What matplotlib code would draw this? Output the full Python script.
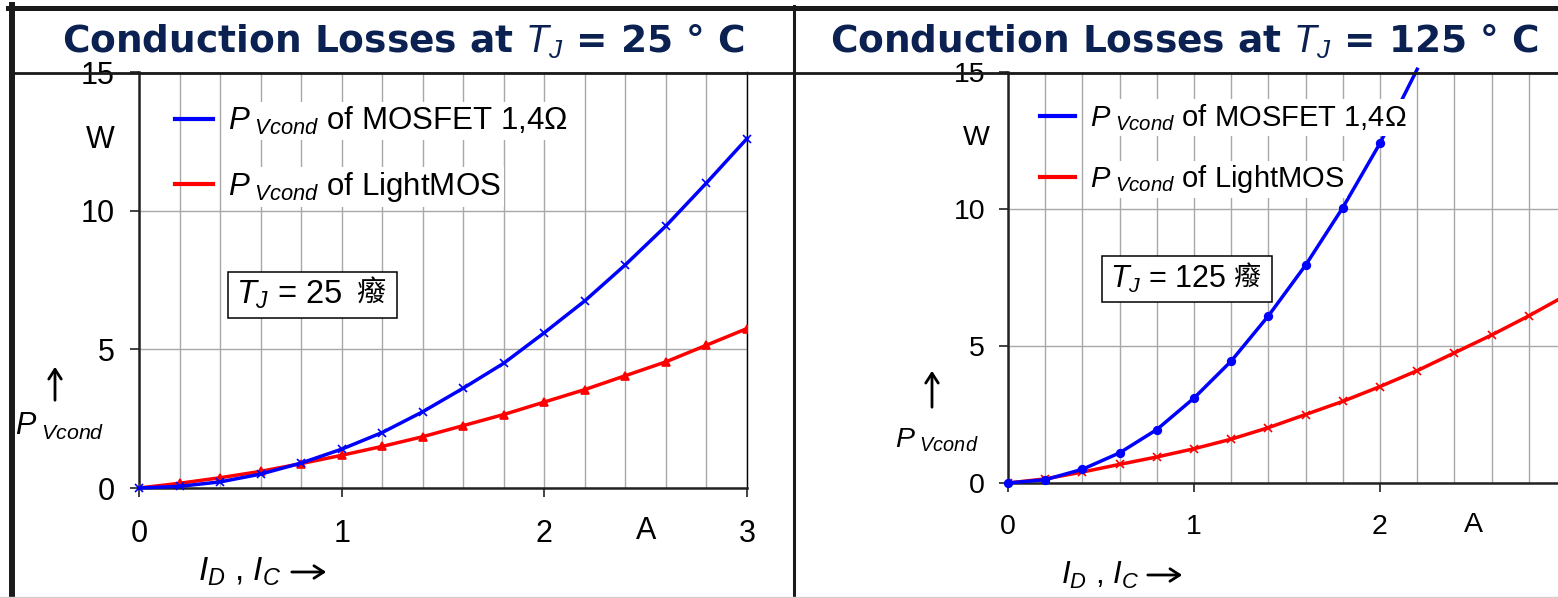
import matplotlib
matplotlib.use('Agg')
import matplotlib.pyplot as plt
from matplotlib.lines import Line2D
from matplotlib.patches import Rectangle, FancyArrowPatch

plt.rcParams['font.family'] = ['Liberation Sans', 'Noto Sans CJK TC']
plt.rcParams['mathtext.fontset'] = 'custom'
plt.rcParams['mathtext.it'] = 'Liberation Sans:italic'
plt.rcParams['mathtext.rm'] = 'Liberation Sans'

W, H = 1558, 598

# 25 degC panel
current_25 = [0, 0.2, 0.4, 0.6, 0.8, 1.0, 1.2, 1.4, 1.6, 1.8, 2.0, 2.2, 2.4, 2.6, 2.8, 3.0]
mosfet_25 = [0, 0.06, 0.22, 0.5, 0.9, 1.4, 2.0, 2.75, 3.6, 4.5, 5.6, 6.75, 8.05, 9.45, 11.0, 12.6]
lightmos_25 = [0, 0.17, 0.37, 0.6, 0.88, 1.18, 1.5, 1.85, 2.25, 2.65, 3.1, 3.55, 4.05, 4.55, 5.15, 5.75]

# 125 degC panel
current_125_mos = [0, 0.2, 0.4, 0.6, 0.8, 1.0, 1.2, 1.4, 1.6, 1.8, 2.0, 2.2]
mosfet_125 = [0, 0.12, 0.5, 1.1, 1.95, 3.1, 4.45, 6.1, 7.95, 10.05, 12.4, 15.1]
current_125 = [0, 0.2, 0.4, 0.6, 0.8, 1.0, 1.2, 1.4, 1.6, 1.8, 2.0, 2.2, 2.4, 2.6, 2.8, 3.0]
lightmos_125 = [0, 0.15, 0.4, 0.68, 0.95, 1.25, 1.6, 2.02, 2.5, 2.98, 3.52, 4.1, 4.75, 5.4, 6.1, 6.85]

y_ticks = [0, 5, 10, 15]
grid_x = [0.2, 0.4, 0.6, 0.8, 1.2, 1.4, 1.6, 1.8, 2.2, 2.4, 2.6, 2.8]

labels = ['$P_{\\ Vcond}$ of MOSFET 1,4\u03a9', '$P_{\\ Vcond}$ of LightMOS']
navy = '#0b2152'


def fx(x):
    return x / W


def fy(y):
    return 1 - y / H


fig = plt.figure(figsize=(W / 100, H / 100), dpi=100)


def arrow(p0, p1):
    fig.add_artist(FancyArrowPatch((fx(p0[0]), fy(p0[1])), (fx(p1[0]), fy(p1[1])),
                                   transform=fig.transFigure,
                                   arrowstyle='->,head_length=7,head_width=4.5',
                                   lw=2, color='black'))


def panel(rect, temp, xt, fs, mos_x, mos_y, mos_m, mos_every, lm_x, lm_y, lm_m,
          ypad, leg_xy, box, arrow_x, arrow_y, plab_xy, xlab_xy, xarrow, title_x, w_pos):
    ax = fig.add_axes(rect)
    ax.set_xlim(0, 3)
    ax.set_ylim(0, 15)
    ax.set_xticks(xt)
    ax.set_yticks(y_ticks)
    ax.set_xticks(grid_x, minor=True)
    ax.tick_params(which='major', direction='out', length=6.5, width=1.3,
                   labelsize=fs, color='#333333')
    ax.tick_params(axis='x', which='major', pad=16)
    ax.tick_params(axis='y', which='major', pad=ypad)
    ax.tick_params(which='minor', length=0)
    ax.grid(True, which='both', axis='x', color='#a8a8a8', lw=1)
    ax.grid(True, which='major', axis='y', color='#a8a8a8', lw=1)
    ax.set_axisbelow(True)
    for s in ['left', 'bottom']:
        ax.spines[s].set_linewidth(1.8)
        ax.spines[s].set_color('#222222')
    ax.spines['right'].set_linewidth(1.0)
    ax.spines['top'].set_visible(False)

    ax.plot(mos_x, mos_y, color='#0000ff', lw=2.5, marker=mos_m, ms=5.5,
            mew=1.2, markevery=mos_every, clip_on=False, zorder=4)
    ax.plot(lm_x, lm_y, color='#ff0000', lw=2.5, marker=lm_m, ms=5.5,
            mew=1.2, zorder=3)

    ax.text(2.5, -1.55, 'A', fontsize=fs, ha='center', va='center', clip_on=False)
    ax.text(w_pos[0], w_pos[1], 'W', fontsize=fs, ha='right', va='center', clip_on=False)

    hl = [Line2D([], [], color=c, lw=3) for c in ['#0000ff', '#ff0000']]
    leg = ax.legend(hl, labels, loc='upper left',
                    bbox_to_anchor=(fx(leg_xy[0]), fy(leg_xy[1])),
                    bbox_transform=fig.transFigure, frameon=False, fontsize=fs + 0.5,
                    handlelength=1.2, handletextpad=0.5, labelspacing=1.05,
                    borderpad=0, borderaxespad=0)
    for t in leg.get_texts():
        t.set_bbox(dict(facecolor='white', edgecolor='none', pad=2))

    # boxed junction temperature note
    bx0, by0, bx1, by1 = box
    fig.add_artist(Rectangle((fx(bx0), fy(by1)), fx(bx1 - bx0), (by1 - by0) / H,
                             transform=fig.transFigure, facecolor='white',
                             edgecolor='black', lw=1.1, zorder=5))
    fig.text(fx(bx0 + 8), fy((by0 + by1) / 2), f'$T_J$ = {temp}', fontsize=fs + 1.5,
             ha='left', va='center', zorder=6)
    fig.text(fx(bx1 - 12), fy((by0 + by1) / 2 - 1), '\u7648', fontsize=fs - 1,
             family=['Noto Sans CJK TC', 'DejaVu Sans'], fontweight='light',
             ha='right', va='center', zorder=6)

    fig.text(title_x, fy(42), f'Conduction Losses at $T_J$ = {temp} \u00b0 C',
             family='DejaVu Sans', fontweight='bold', fontsize=27, color=navy,
             ha='center', va='center')

    fig.text(fx(plab_xy[0]), fy(plab_xy[1]), '$P_{\\ Vcond}$', fontsize=fs,
             ha='center', va='center')
    arrow((arrow_x, arrow_y[0]), (arrow_x, arrow_y[1]))
    fig.text(fx(xlab_xy[0]), fy(xlab_xy[1]), '$I_D$ , $I_C$', fontsize=fs + 2,
             ha='left', va='center')
    arrow((xarrow[0], xarrow[2]), (xarrow[1], xarrow[2]))
    return ax


panel([139 / W, 1 - 488 / H, 608 / W, 416 / H], 25, [0, 1, 2, 3], 22,
      current_25, mosfet_25, 'x', None, current_25, lightmos_25, '^',
      ypad=11, leg_xy=(175, 105), box=(228, 272, 397, 318),
      arrow_x=55, arrow_y=(403, 364), plab_xy=(60, 426),
      xlab_xy=(198, 572), xarrow=(289, 329, 572), title_x=fx(403),
      w_pos=(-0.12, 12.55))

panel([1008 / W, 1 - 483 / H, 558 / W, 411 / H], 125, [0, 1, 2], 20.5,
      current_125_mos, mosfet_125, 'o', list(range(11)), current_125, lightmos_125, 'x',
      ypad=10, leg_xy=(1040, 102), box=(1102, 256, 1272, 302),
      arrow_x=932, arrow_y=(410, 368), plab_xy=(937, 440),
      xlab_xy=(1061, 575), xarrow=(1145, 1185, 575), title_x=fx(1184),
      w_pos=(-0.1, 12.6))

# outer frame lines
frame = [((8, 1558), (7.5, 7.5), 3.6),
         ((11.5, 11.5), (5, 598), 4.3),
         ((793.5, 793.5), (6, 598), 2.2),
         ((14, 1558), (72.5, 72.5), 2.0)]
for xs, ys, lw in frame:
    fig.add_artist(Line2D([fx(xs[0]), fx(xs[1])], [fy(ys[0]), fy(ys[1])],
                          transform=fig.transFigure, color='#1a1a1a', lw=lw))
fig.add_artist(Line2D([0, 1], [fy(596.5), fy(596.5)], transform=fig.transFigure,
                      color='#d0d0d0', lw=1))

fig.savefig('out.png', dpi=100, facecolor='white')
